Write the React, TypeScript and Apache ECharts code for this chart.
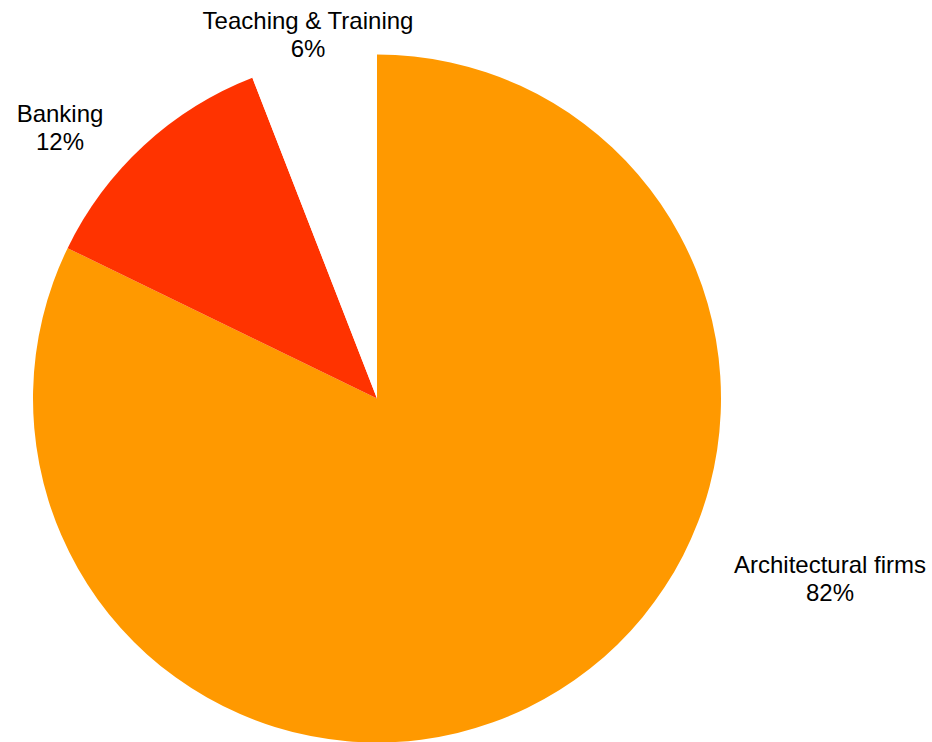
import React, { useEffect, useRef } from "react";
import * as echarts from "echarts";

const categories = ["Architectural firms", "Banking", "Teaching & Training"];
const values = [82.2, 11.9, 5.9];
const colors = ["#FF9900", "#FF3300", "#FFFFFF"];

// label anchor points (center of each label block), in pixels
const labelAnchors = [
  [830, 578],
  [60, 127],
  [308, 34],
];

export default function App() {
  const ref = useRef<HTMLDivElement>(null);
  useEffect(() => {
    document.body.style.margin = "0";
    if (!ref.current) return;
    const chart = echarts.init(ref.current, null, { renderer: "svg" });
    chart.setOption({
      animation: false,
      backgroundColor: "#ffffff",
      series: [
        {
          type: "pie",
          center: [377, 398.5],
          radius: 344,
          startAngle: 90,
          clockwise: true,
          percentPrecision: 0,
          silent: true,
          data: categories.map((name, i) => ({
            name,
            value: values[i],
            itemStyle: { color: colors[i] },
          })),
          label: {
            show: true,
            position: "outside",
            formatter: "{b}\n{d}%",
            fontSize: 24,
            lineHeight: 28,
            fontFamily: "Liberation Sans, Arial, sans-serif",
            color: "#000000",
            align: "center",
            verticalAlign: "middle",
          },
          labelLine: { show: false },
          labelLayout: (params: any) => {
            const a = labelAnchors[params.dataIndex];
            return {
              x: a[0],
              y: a[1],
              align: "center",
              verticalAlign: "middle",
              hideOverlap: false,
            };
          },
        },
      ],
    });
    return () => chart.dispose();
  }, []);
  return (
    <div
      ref={ref}
      style={{ position: "absolute", left: 0, top: 0, width: 932, height: 742 }}
    />
  );
}
